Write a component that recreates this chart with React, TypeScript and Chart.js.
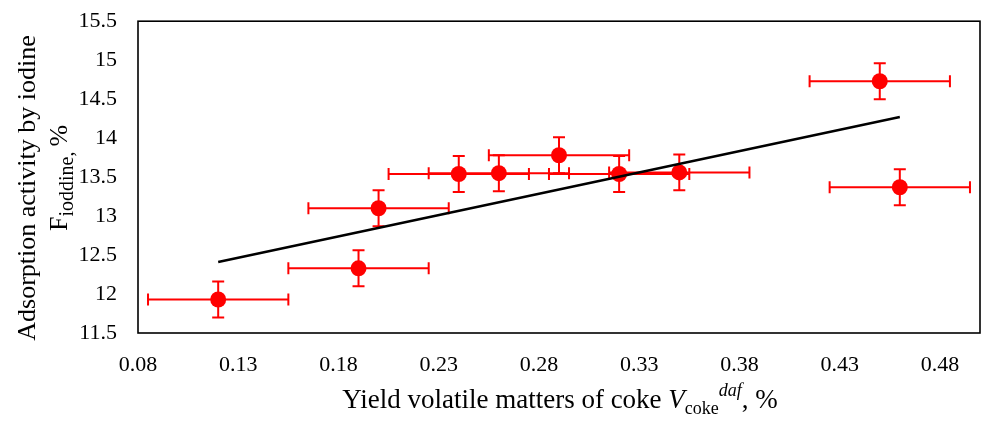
import React, { useEffect, useRef } from "react";
import { Chart, registerables } from "chart.js";

Chart.register(...registerables);

// ---- data ----
const xValues = [0.12, 0.19, 0.2, 0.24, 0.26, 0.29, 0.32, 0.35, 0.45, 0.46];
const yValues = [11.93, 12.33, 13.1, 13.54, 13.55, 13.78, 13.54, 13.56, 14.73, 13.37];
const xErrors = [0.035, 0.035, 0.035, 0.035, 0.035, 0.035, 0.035, 0.035, 0.035, 0.035];
const yErrors = [0.23, 0.23, 0.23, 0.23, 0.23, 0.23, 0.23, 0.23, 0.23, 0.23];
const trendX = [0.12, 0.46];
const trendY = [12.41, 14.27];
const xTicks = [0.08, 0.13, 0.18, 0.23, 0.28, 0.33, 0.38, 0.43, 0.48];
const yTicks = [11.5, 12, 12.5, 13, 13.5, 14, 14.5, 15, 15.5];

const FONT = "'Liberation Serif', 'Times New Roman', serif";

type Seg = { t: string; size: number; italic?: boolean; dy?: number };

function drawRich(ctx: CanvasRenderingContext2D, segs: Seg[]) {
  let total = 0;
  for (const s of segs) {
    ctx.font = `${s.italic ? "italic " : ""}${s.size}px ${FONT}`;
    total += ctx.measureText(s.t).width;
  }
  let x = -total / 2;
  ctx.textAlign = "left";
  ctx.textBaseline = "alphabetic";
  for (const s of segs) {
    ctx.font = `${s.italic ? "italic " : ""}${s.size}px ${FONT}`;
    ctx.fillText(s.t, x, s.dy || 0);
    x += ctx.measureText(s.t).width;
  }
}

const decorPlugin = {
  id: "decor",
  beforeDatasetsDraw(chart: any) {
    const ctx = chart.ctx as CanvasRenderingContext2D;
    const xs = chart.scales.x;
    const ys = chart.scales.y;
    const a = chart.chartArea;
    ctx.save();
    ctx.strokeStyle = "#000";
    ctx.lineWidth = 1.6;
    ctx.strokeRect(a.left, a.top, a.right - a.left, a.bottom - a.top);
    // error bars
    ctx.strokeStyle = "#ff0000";
    ctx.lineWidth = 2;
    const cap = 6;
    for (let i = 0; i < xValues.length; i++) {
      const cx = xs.getPixelForValue(xValues[i]);
      const cy = ys.getPixelForValue(yValues[i]);
      const x1 = xs.getPixelForValue(xValues[i] - xErrors[i]);
      const x2 = xs.getPixelForValue(xValues[i] + xErrors[i]);
      const y1 = ys.getPixelForValue(yValues[i] - yErrors[i]);
      const y2 = ys.getPixelForValue(yValues[i] + yErrors[i]);
      ctx.beginPath();
      ctx.moveTo(x1, cy);
      ctx.lineTo(x2, cy);
      ctx.moveTo(x1, cy - cap);
      ctx.lineTo(x1, cy + cap);
      ctx.moveTo(x2, cy - cap);
      ctx.lineTo(x2, cy + cap);
      ctx.moveTo(cx, y1);
      ctx.lineTo(cx, y2);
      ctx.moveTo(cx - cap, y1);
      ctx.lineTo(cx + cap, y1);
      ctx.moveTo(cx - cap, y2);
      ctx.lineTo(cx + cap, y2);
      ctx.stroke();
    }
    ctx.restore();
  },
  afterDraw(chart: any) {
    const ctx = chart.ctx as CanvasRenderingContext2D;
    const a = chart.chartArea;
    ctx.save();
    ctx.fillStyle = "#000";
    // x title
    ctx.save();
    ctx.translate((a.left + a.right) / 2 + 1, 408);
    drawRich(ctx, [
      { t: "Yield volatile matters of coke ", size: 27 },
      { t: "V", size: 27, italic: true },
      { t: "coke", size: 18, dy: 6 },
      { t: "daf", size: 18, italic: true, dy: -12 },
      { t: ", %", size: 27 },
    ]);
    ctx.restore();
    // y title line 1
    ctx.save();
    ctx.translate(35, 188);
    ctx.rotate(-Math.PI / 2);
    drawRich(ctx, [{ t: "Adsorption activity by iodine", size: 26 }]);
    ctx.restore();
    // y title line 2
    ctx.save();
    ctx.translate(67, 178);
    ctx.rotate(-Math.PI / 2);
    drawRich(ctx, [
      { t: "F", size: 26 },
      { t: "ioddine, ", size: 20, dy: 6 },
      { t: "%", size: 26 },
    ]);
    ctx.restore();
    ctx.restore();
  },
};

export default function App() {
  const ref = useRef<HTMLCanvasElement | null>(null);
  useEffect(() => {
    if (!ref.current) return;
    const chart = new Chart(ref.current, {
      type: "scatter",
      data: {
        datasets: [
          {
            type: "line",
            data: trendX.map((x, i) => ({ x, y: trendY[i] })),
            borderColor: "#000",
            borderWidth: 2.5,
            pointRadius: 0,
            showLine: true,
            fill: false,
            order: 0,
          } as any,
          {
            type: "scatter",
            data: xValues.map((x, i) => ({ x, y: yValues[i] })),
            backgroundColor: "#ff0000",
            borderColor: "#ff0000",
            borderWidth: 0,
            pointRadius: 8,
            order: 1,
          },
        ],
      },
      options: {
        responsive: false,
        animation: false,
        layout: { autoPadding: false, padding: { top: 21, right: 2, left: 0, bottom: 0 } },
        plugins: { legend: { display: false }, tooltip: { enabled: false } },
        scales: {
          x: {
            type: "linear",
            min: 0.08,
            max: 0.5,
            grid: { display: false, drawTicks: true, tickLength: 19 },
            border: { display: false },
            afterBuildTicks: (s: any) => {
              s.ticks = xTicks.map((v) => ({ value: v }));
            },
            afterFit: (s: any) => {
              s.height = 88;
              s.paddingRight = 0;
              s.paddingLeft = 0;
            },
            ticks: {
              autoSkip: false,
              maxRotation: 0,
              padding: 0,
              color: "#000",
              font: { family: FONT, size: 22 },
              callback: (v: any) => Number(v).toFixed(2),
            },
          },
          y: {
            type: "linear",
            min: 11.5,
            max: 15.5,
            grid: { display: false, drawTicks: true, tickLength: 13 },
            border: { display: false },
            afterBuildTicks: (s: any) => {
              s.ticks = yTicks.map((v) => ({ value: v }));
            },
            afterFit: (s: any) => {
              s.width = 138;
            },
            ticks: {
              autoSkip: false,
              padding: 8,
              color: "#000",
              font: { family: FONT, size: 22 },
              callback: (v: any) => String(v),
            },
          },
        },
      } as any,
      plugins: [decorPlugin],
    });
    return () => chart.destroy();
  }, []);
  return (
    <div style={{ position: "absolute", left: 0, top: 0, width: 982, height: 421, background: "#fff" }}>
      <canvas ref={ref} width={982} height={421} style={{ display: "block" }} />
    </div>
  );
}
